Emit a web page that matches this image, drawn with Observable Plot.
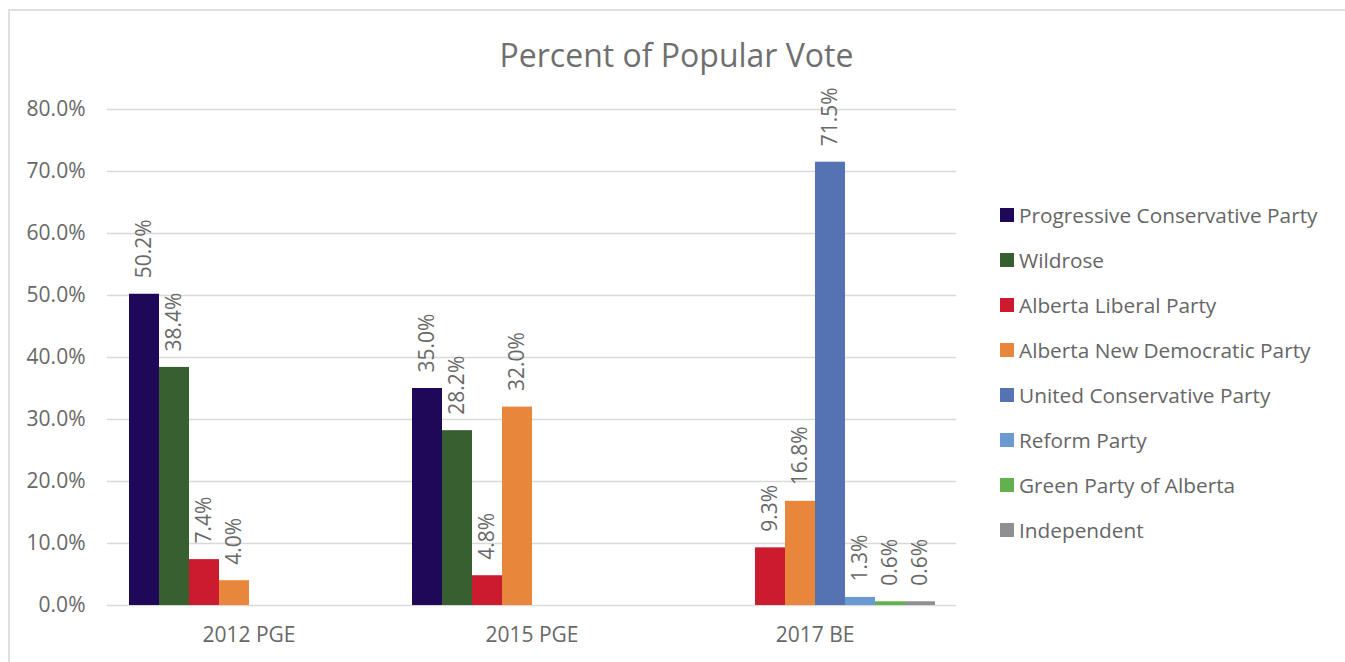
<!DOCTYPE html>
<html>
<head>
<meta charset="utf-8">
<script src="https://cdn.jsdelivr.net/npm/d3@7"></script>
<script src="https://cdn.jsdelivr.net/npm/@observablehq/plot@0.6"></script>
<style>
  html, body { margin: 0; padding: 0; background: #fff; }
  #wrap { position: relative; width: 1345px; height: 662px; overflow: hidden; font-family: "Open Sans", sans-serif; }
  #frame { position: absolute; left: 8px; top: 9px; width: 1400px; height: 700px; border-left: 2px solid #e0e0e0; border-top: 2px solid #e0e0e0; pointer-events: none; }
  #title { height: 80px; padding-top: 33px; box-sizing: border-box; line-height: 44px; text-align: center; font-size: 32px; color: #6f6f6f; padding-left: 8px; }
  #legend { position: absolute; left: 1000px; top: 192px; }
  .item { height: 45px; display: flex; align-items: center; font-size: 20.8px; color: #666; white-space: nowrap; }
  .sw { width: 14px; height: 14px; margin-right: 5px; flex: none; }
</style>
</head>
<body>
<div id="wrap">
  <div id="frame"></div>
  <div id="title">Percent of Popular Vote</div>
  <div id="chart"></div>
  <div id="legend"></div>
</div>
<script>
const elections = ["2012 PGE", "2015 PGE", "2017 BE"];
const parties = [
  "Progressive Conservative Party",
  "Wildrose",
  "Alberta Liberal Party",
  "Alberta New Democratic Party",
  "United Conservative Party",
  "Reform Party",
  "Green Party of Alberta",
  "Independent"
];
const partyColors = ["#1f0857", "#375f30", "#cc1a2e", "#e8873c", "#5572b3", "#6a9ad1", "#63b04f", "#8f8f93"];
const votes2012 = [50.2, 38.4, 7.4, 4.0, null, null, null, null];
const votes2015 = [35.0, 28.2, 4.8, 32.0, null, null, null, null];
const votes2017 = [null, null, 9.3, 16.8, 71.5, 1.3, 0.6, 0.6];
const yTicks = [0, 10, 20, 30, 40, 50, 60, 70, 80];

const series = [votes2012, votes2015, votes2017];
const rows = [];
elections.forEach((e, i) => {
  parties.forEach((p, j) => {
    const v = series[i][j];
    if (v != null) rows.push({election: e, party: p, value: v});
  });
});

const textColor = "#686868";
const chart = Plot.plot({
  width: 1345,
  height: 582,
  marginLeft: 106,
  marginRight: 388,
  marginTop: 29,
  marginBottom: 57,
  style: {fontFamily: "Open Sans, sans-serif", fontSize: "21px", color: textColor, background: "transparent"},
  fx: {domain: elections, padding: 0, label: null, axis: "bottom", tickSize: 0, tickPadding: 22},
  x: {domain: parties, paddingInner: 0, paddingOuter: 0.66, axis: null},
  y: {domain: [0, 80], ticks: yTicks, tickFormat: d => d.toFixed(1) + "%", label: null, tickSize: 0, tickPadding: 22},
  color: {domain: parties, range: partyColors},
  marks: [
    Plot.gridY(yTicks, {stroke: "#d9d9d9", strokeOpacity: 1, strokeWidth: 1.5}),
    Plot.barY(rows, {fx: "election", x: "party", y: "value", fill: "party", inset: 0}),
    Plot.text(rows, {fx: "election", x: "party", y: "value", text: d => d.value.toFixed(1) + "%",
      rotate: -90, textAnchor: "start", lineAnchor: "middle", dy: -16, fill: textColor, fontSize: 21})
  ]
});
document.getElementById("chart").appendChild(chart);

const legend = document.getElementById("legend");
parties.forEach((p, i) => {
  const it = document.createElement("div");
  it.className = "item";
  const sw = document.createElement("span");
  sw.className = "sw";
  sw.style.background = partyColors[i];
  const t = document.createElement("span");
  t.textContent = p;
  it.appendChild(sw);
  it.appendChild(t);
  legend.appendChild(it);
});
</script>
</body>
</html>
